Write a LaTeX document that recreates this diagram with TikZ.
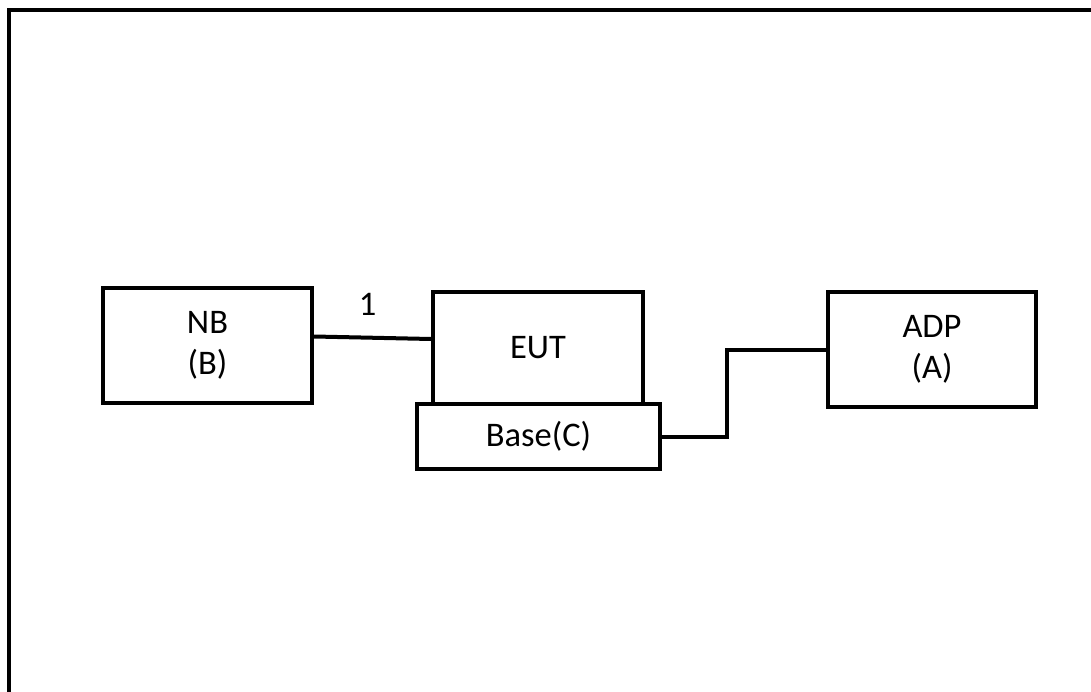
\documentclass[tikz,border=0pt]{standalone}
\usepackage{fontspec}
\setmainfont{Carlito}
\usetikzlibrary{positioning}

\begin{document}
\begin{tikzpicture}[x=1pt, y=-1pt, line width=4pt,
  unit/.style={draw, inner sep=0pt, align=center, font=\fontsize{34.5}{41}\selectfont}]
  \useasboundingbox (0,0) rectangle (1091,692);
  \draw (9,10) rectangle (1110,710);
  \node [unit, minimum width=209pt, minimum height=115pt] (nb) at (207.5,345.5) {NB\\(B)};
  \node [unit, minimum width=210pt, minimum height=112pt] (eut) at (538,348) {EUT};
  \node [unit, minimum width=243pt, minimum height=65pt, fill=white] (base) at (538.5,436.5) {Base(C)};
  \node [unit, minimum width=208pt, minimum height=115pt] (adp) at (932,349.5) {ADP\\(A)};
  \draw ([yshift=9pt]nb.east) -- ([yshift=9pt]eut.west)
    node [midway, above=17pt, xshift=-5pt, font=\fontsize{34.5}{41}\selectfont] (one) {1};
  \draw (base.east) -- ++(65,0) |- (adp.west);
\end{tikzpicture}
\end{document}
